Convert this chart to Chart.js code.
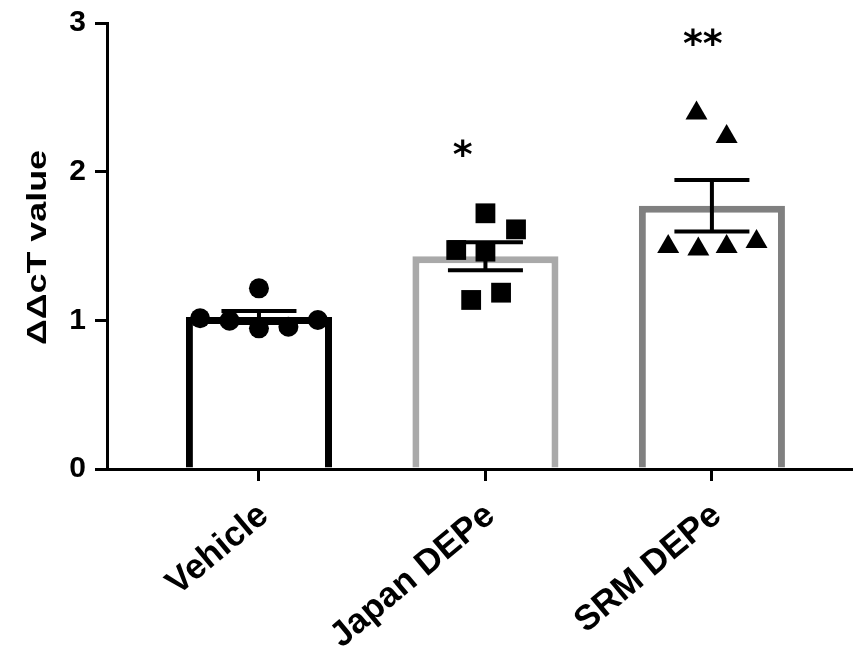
<!DOCTYPE html>
<html><head><meta charset="utf-8">
<script src="https://cdn.jsdelivr.net/npm/chart.js@4/dist/chart.umd.min.js"></script>
<style>html,body{margin:0;padding:0;background:#fff;overflow:hidden}canvas{display:block}</style>
</head><body><canvas id="c" width="853" height="649"></canvas>
<script>
// ---- data ----
const categories = ['Vehicle', 'Japan DEPe', 'SRM DEPe'];
const yTickValues = [0, 1, 2, 3];
const yTitle = 'ΔΔcT value';
const vehicleValues = [1.215, 1.014, 0.998, 0.946, 0.957, 1.002];
const japanValues   = [1.720, 1.612, 1.473, 1.462, 1.186, 1.137];
const srmValues     = [2.393, 2.235, 1.495, 1.478, 1.495, 1.529];
// horizontal scatter of the individual points (category units)
const vehicleJitter = [0, -0.26, -0.13, 0, 0.13, 0.26];
const japanJitter   = [0, 0.135, -0.129, 0, 0.069, -0.063];
const srmJitter     = [-0.068, 0.065, -0.193, -0.06, 0.065, 0.197];
// significance marks
const sigLabels = ['', '*', '**'];
const sigLevels = [null, 2.16, 2.905];
const sigShift  = [0, -0.10, -0.04];

const groups = [vehicleValues, japanValues, srmValues];
const jitters = [vehicleJitter, japanJitter, srmJitter];
const barColors = ['#000000', '#a9a9a9', '#808080'];
const pointStyles = ['circle', 'rect', 'triangle'];
const pointRadii = [10, 14, 12.7];

const mean = a => a.reduce((s, v) => s + v, 0) / a.length;
const sem = a => { const m = mean(a); return Math.sqrt(a.reduce((s, v) => s + (v - m) * (v - m), 0) / (a.length - 1)) / Math.sqrt(a.length); };

const FONT = '"Liberation Sans", Arial, sans-serif';

const overlay = {
  id: 'overlay',
  afterDatasetDraw(chart, args) {
    if (args.index !== 0) return;
    const { ctx, scales: { x, y } } = chart;
    ctx.save();
    ctx.strokeStyle = '#000'; ctx.lineWidth = 4; ctx.lineCap = 'butt';
    groups.forEach((vals, i) => {
      const m = mean(vals), s = sem(vals);
      const cx = x.getPixelForValue(i);
      const yt = y.getPixelForValue(m + s), yb = y.getPixelForValue(m - s);
      const half = 37.5;
      ctx.beginPath();
      ctx.moveTo(cx, yt); ctx.lineTo(cx, yb);
      ctx.moveTo(cx - half, yt); ctx.lineTo(cx + half, yt);
      ctx.moveTo(cx - half, yb); ctx.lineTo(cx + half, yb);
      ctx.stroke();
    });
    ctx.restore();
  },
  afterDraw(chart) {
    const { ctx, scales: { x, y } } = chart;
    ctx.save();
    // significance asterisks
    ctx.fillStyle = '#000';
    ctx.font = 'bold 38px "DejaVu Sans", sans-serif';
    ctx.textAlign = 'center';
    ctx.textBaseline = 'alphabetic';
    sigLabels.forEach((t, i) => {
      if (!t) return;
      const mt = ctx.measureText(t);
      const cx = x.getPixelForValue(i + sigShift[i]);
      const cy = y.getPixelForValue(sigLevels[i]);
      ctx.fillText(t, cx, cy + (mt.actualBoundingBoxAscent - mt.actualBoundingBoxDescent) / 2);
    });
    // y axis title
    ctx.font = 'bold 27px ' + FONT;
    const w = ctx.measureText(yTitle).width;
    ctx.translate(46, 247.5);
    ctx.rotate(-Math.PI / 2);
    ctx.scale(195 / w, 1);
    ctx.textAlign = 'center';
    ctx.fillText(yTitle, 0, 0);
    ctx.restore();
  }
};

function build() {
  const datasets = [{
    type: 'bar',
    order: 2,
    data: groups.map((g, i) => ({ x: i, y: mean(g) })),
    backgroundColor: '#ffffff',
    borderColor: barColors,
    borderWidth: 7,
    borderSkipped: 'start',
    barPercentage: 0.645,
    categoryPercentage: 1
  }];
  groups.forEach((g, i) => {
    datasets.push({
      type: 'scatter',
      order: 1,
      data: g.map((v, k) => ({ x: i + jitters[i][k], y: v })),
      pointStyle: pointStyles[i],
      pointRadius: pointRadii[i],
      pointHoverRadius: pointRadii[i],
      backgroundColor: '#000',
      borderColor: '#000',
      borderWidth: 0
    });
  });

  new Chart(document.getElementById('c'), {
    type: 'bar',
    data: { datasets },
    options: {
      responsive: false,
      animation: false,
      devicePixelRatio: 1,
      layout: { autoPadding: false, padding: { top: 23, right: 0, bottom: 0, left: 0 } },
      plugins: { legend: { display: false }, tooltip: { enabled: false } },
      scales: {
        x: {
          type: 'linear',
          min: -0.671, max: 2.623,
          offset: false,
          afterBuildTicks: s => { s.ticks = categories.map((_, i) => ({ value: i })); },
          afterFit: s => { s.height = 180; s.paddingLeft = 0; s.paddingRight = 0; },
          ticks: {
            callback: (v, i) => categories[i],
            minRotation: 40, maxRotation: 40, autoSkip: false,
            labelOffset: 5,
            font: { family: FONT, size: 35, weight: 'bold' }, color: '#000', padding: 14
          },
          grid: { display: true, drawOnChartArea: false, drawTicks: true, tickLength: 12, lineWidth: 3, color: '#000', offset: false },
          border: { display: true, color: '#000', width: 3 }
        },
        y: {
          min: 0, max: 3,
          afterBuildTicks: s => { s.ticks = yTickValues.map(v => ({ value: v })); },
          afterFit: s => { s.width = 107; s.paddingTop = 0; s.paddingBottom = 0; },
          ticks: { font: { family: FONT, size: 30, weight: 'bold' }, color: '#000', padding: 9 },
          grid: { display: true, drawOnChartArea: false, drawTicks: true, tickLength: 12, lineWidth: 3, color: '#000' },
          border: { display: true, color: '#000', width: 3 }
        }
      }
    },
    plugins: [overlay]
  });
}

const fontsReady = (document.fonts && document.fonts.load)
  ? Promise.all([
      document.fonts.load('bold 30px "Liberation Sans"'),
      document.fonts.load('bold 38px "DejaVu Sans"')
    ]).catch(() => null)
  : Promise.resolve();
fontsReady.then(build, build);
</script></body></html>
